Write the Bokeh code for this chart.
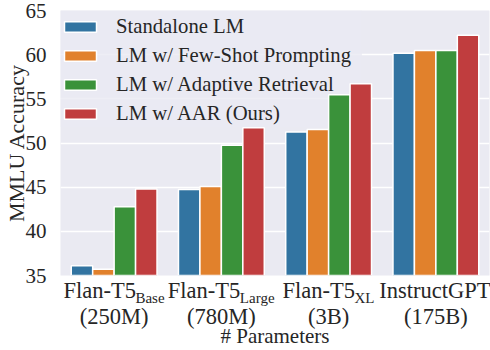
from bokeh.plotting import figure
from bokeh.models import (ColumnDataSource, Range1d, FixedTicker, Legend,
                          LinearAxis, BoxAnnotation)
from bokeh.transform import dodge
from bokeh.embed import file_html
from bokeh.resources import INLINE

# ---- data ----
categories = ["Flan-T5 Base", "Flan-T5 Large", "Flan-T5 XL", "InstructGPT"]
label_main = ["Flan-T5", "Flan-T5", "Flan-T5", "InstructGPT"]
label_sub = ["Base", "Large", "XL", ""]
label_size = ["(250M)", "(780M)", "(3B)", "(175B)"]
series_names = ["Standalone LM", "LM w/ Few-Shot Prompting", "LM w/ Adaptive Retrieval", "LM w/ AAR (Ours)"]
standalone = [36.1, 44.75, 51.25, 60.17]
few_shot = [35.7, 45.07, 51.54, 60.46]
adaptive = [42.77, 49.75, 55.46, 60.46]
aar = [44.78, 51.73, 56.71, 62.21]
y_ticks = [35, 40, 45, 50, 55, 60, 65]
x_title = "# Parameters"
y_title = "MMLU Accuracy"

colors = ["#3274A1", "#E1812C", "#3A923A", "#C03D3E"]
FONT = "Liberation Serif"
TXT = "#262626"
W_FIG, H_FIG = 490, 350
LEFT, RIGHT, TOP = 55, 1, 10

n = len(categories)
xc = [i + 0.5 for i in range(n)]  # category slot centres on a 0..n axis
src = ColumnDataSource(dict(cat=categories, xc=xc, s0=standalone, s1=few_shot, s2=adaptive, s3=aar))

p = figure(width=W_FIG, height=H_FIG, x_range=Range1d(0, n),
           y_range=Range1d(35, 65), output_backend="svg", toolbar_location=None,
           x_axis_location=None,
           min_border_left=LEFT, min_border_right=RIGHT, min_border_top=TOP, min_border_bottom=0)
p.background_fill_color = "#EAEAF2"
p.border_fill_color = "white"
p.outline_line_color = None

p.xgrid.grid_line_color = None
p.ygrid.grid_line_color = "white"
p.ygrid.grid_line_width = 1.3

# semi-transparent legend panel drawn beneath the bars
p.add_layout(BoxAnnotation(left=0, right=2.81, top=65, bottom=51.8, fill_color="#EAEAF2",
                           fill_alpha=0.8, line_color=None, level="underlay"))

offsets = [-0.3, -0.1, 0.1, 0.3]
items = []
for i, key in enumerate(["s0", "s1", "s2", "s3"]):
    r = p.vbar(x=dodge("xc", offsets[i]), top=key, bottom=0, width=0.2,
               source=src, fill_color=colors[i], line_color="white", line_width=1.5)
    items.append((series_names[i], [r]))

# legend position (screen px, measured up from the frame bottom)
LEG_PAD, LEG_ROW, LEG_SP = 6, 26, 3
leg_h = 2 * LEG_PAD + len(items) * LEG_ROW + (len(items) - 1) * LEG_SP
leg_y = 284 - TOP - leg_h
legend = Legend(items=items, location=(0, leg_y), margin=0,
                padding=LEG_PAD, spacing=LEG_SP,
                glyph_width=40, glyph_height=13, label_height=LEG_ROW, label_standoff=16,
                label_text_font=FONT, label_text_font_size="20.7px", label_text_color=TXT,
                background_fill_alpha=0, border_line_color=None)
p.add_layout(legend)

ya = p.yaxis[0]
ya.ticker = FixedTicker(ticks=y_ticks)
ya.axis_line_color = None
ya.major_tick_line_color = None
ya.minor_tick_line_color = None
ya.major_label_text_font = FONT
ya.major_label_text_font_size = "21px"
ya.major_label_text_color = TXT
ya.major_label_standoff = 8
ya.axis_label = y_title
ya.axis_label_text_font = FONT
ya.axis_label_text_font_size = "22px"
ya.axis_label_text_font_style = "normal"
ya.axis_label_text_color = TXT
ya.axis_label_standoff = -6

# ---- category labels below the frame (name + subscript, size on a second line) ----
# approximate glyph advance widths (Times metrics, per em) used to centre name + subscript
WID = {"F": .556, "l": .278, "a": .444, "n": .5, "-": .333, "T": .611, "5": .5, "I": .333,
       "s": .389, "t": .278, "r": .333, "u": .5, "c": .444, "G": .722, "P": .556, "B": .667,
       "e": .444, "g": .5, "X": .722, "L": .611}
def tw(s, size):
    return sum(WID.get(ch, .5) for ch in s) * size

MAIN, SUB = 22.5, 15
px_per_unit = (W_FIG - LEFT - RIGHT) / n
main_pos, sub_pos = [], []
for c, m, s in zip(xc, label_main, label_sub):
    w1, w2 = tw(m, MAIN), tw(s, SUB)
    main_pos.append(c - (w2 / 2) / px_per_unit)
    sub_pos.append(c + (w1 / 2) / px_per_unit)

def label_axis(ticks, texts, size, standoff):
    ax = LinearAxis(ticker=FixedTicker(ticks=ticks),
                    major_label_overrides={t: s for t, s in zip(ticks, texts)})
    ax.axis_line_color = None
    ax.major_tick_line_color = None
    ax.minor_tick_line_color = None
    ax.major_tick_out = 0
    ax.major_tick_in = 0
    ax.major_label_standoff = standoff
    ax.major_label_text_font = FONT
    ax.major_label_text_font_size = f"{size}px"
    ax.major_label_text_color = TXT
    return ax

ax_main = label_axis(main_pos, label_main, MAIN, 2)
ax_sub = label_axis([t for t, s in zip(sub_pos, label_sub) if s], [s for s in label_sub if s], SUB, -16)
ax_size = label_axis(xc, label_size, MAIN, -5)
ax_size.axis_label = x_title
ax_size.axis_label_text_font = FONT
ax_size.axis_label_text_font_size = "21px"
ax_size.axis_label_text_font_style = "normal"
ax_size.axis_label_text_color = TXT
ax_size.axis_label_standoff = -8

p.add_layout(ax_main, "below")
p.add_layout(ax_sub, "below")
p.add_layout(ax_size, "below")

open("out.html", "w").write(file_html(p, INLINE))
